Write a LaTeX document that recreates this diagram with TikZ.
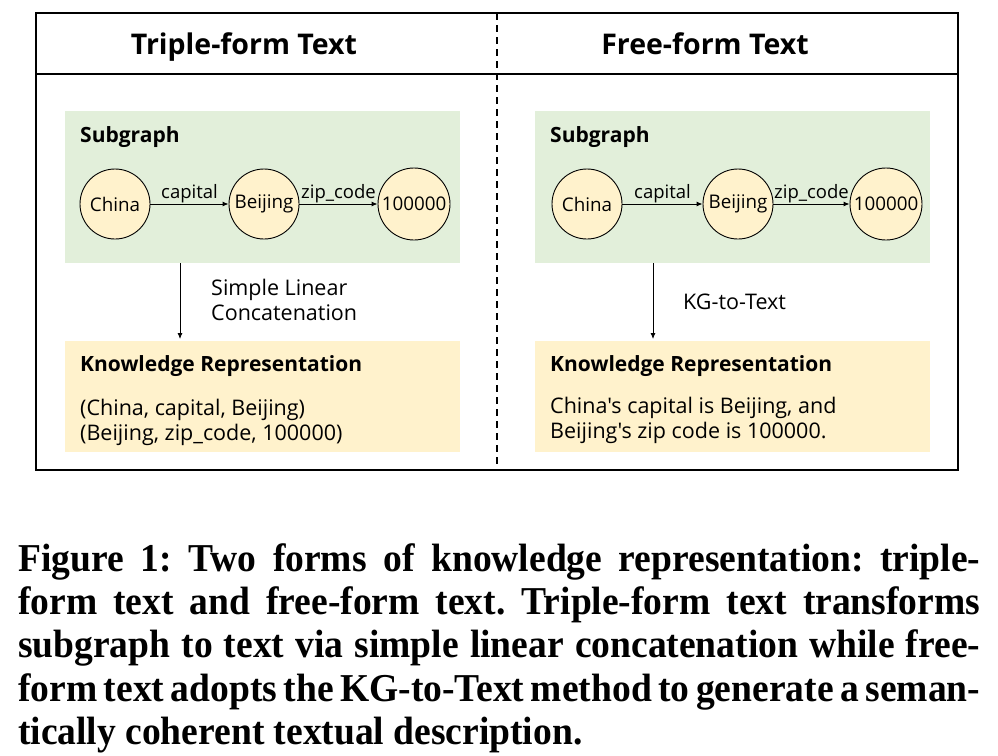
\documentclass[tikz,border=0pt]{standalone}
\usepackage{fontspec}
\setmainfont{Liberation Serif}
\newfontfamily\uifont{Open Sans}
\newfontface\capfont[FakeStretch=0.95]{Liberation Serif Bold}
\usetikzlibrary{arrows.meta}
\definecolor{subgfill}{HTML}{E2EFDA}
\definecolor{krfill}{HTML}{FFF2CC}
\definecolor{entfill}{HTML}{FFF2CC}
\frenchspacing
\begin{document}
\begin{tikzpicture}[x=1pt,y=-1pt,
  ent/.style={circle, draw, line width=0.9pt, fill=entfill, minimum size=70pt, inner sep=0pt, font=\uifont\fontsize{18.8}{20}\selectfont},
  rel/.style={-{Latex[length=6pt,width=5pt]}, line width=1pt},
  rellabel/.style={font=\uifont\fontsize{18.5}{20}\selectfont, inner sep=1pt},
  flow/.style={-{Latex[length=6pt,width=5pt]}, line width=0.8pt},
  panelbox/.style={anchor=north west, minimum width=395pt, minimum height=152pt, inner sep=0pt},
  krbox/.style={anchor=north west, fill=krfill, minimum width=395pt, minimum height=111pt, inner sep=0pt},
  heading/.style={anchor=base, font=\uifont\bfseries\fontsize{28.5}{32}\selectfont},
  subhead/.style={anchor=base west, font=\uifont\bfseries\fontsize{21}{24}\selectfont, inner sep=0pt},
  body/.style={anchor=base west, font=\uifont\fontsize{21.5}{25}\selectfont, inner sep=0pt},
  capline/.style={anchor=base west, inner sep=0pt, font=\capfont\fontsize{39.5}{43}\selectfont}
]
\useasboundingbox (0,0) rectangle (998,755);
% frame
\draw[line width=2pt] (36,13) rectangle (958,470);
\draw[line width=1.5pt] (36,74) -- (958,74);
\draw[line width=2pt, dash pattern=on 7pt off 5pt] (497,13) -- (497,470);
\node[heading] (h1) at (244,54) {Triple-form Text};
\node[heading] (h2) at (705,54) {Free-form Text};

% ---------- left panel
\node[panelbox, fill=subgfill] (sg1) at (65,111) {};
\node[subhead] (sgt1) at (80,142) {Subgraph};
\node[ent] (c1) at (115,204) {China};
\node[ent] (b1) at (264,204) {Beijing};
\node[ent, minimum size=72pt] (z1) at (414,204) {100000};
\draw[rel] (c1) -- node[rellabel, above=0pt] {capital} (b1);
\draw[rel] (b1) -- node[rellabel, above=0pt] {zip\_code} (z1);
\node[krbox] (kr1) at (65,341) {};
\node[subhead] (krt1) at (80,371) {Knowledge Representation};
\node[body] (krb1a) at (80,415) {(China, capital, Beijing)};
\node[body] (krb1b) at (80,440) {(Beijing, zip\_code, 100000)};
\coordinate (a1x) at (180,0);
\draw[flow] (sg1.south -| a1x) -- ([yshift=2pt]kr1.north -| a1x);
\node[body] (l1a) at (211,295) {Simple Linear};
\node[body] (l1b) at (211,320) {Concatenation};

% ---------- right panel
\node[panelbox, fill=subgfill] (sg2) at (535,111) {};
\node[subhead] (sgt2) at (550,142) {Subgraph};
\node[ent] (c2) at (587,204) {China};
\node[ent] (b2) at (738,204) {Beijing};
\node[ent, minimum size=72pt] (z2) at (886,204) {100000};
\draw[rel] (c2) -- node[rellabel, above=0pt] {capital} (b2);
\draw[rel] (b2) -- node[rellabel, above=0pt] {zip\_code} (z2);
\node[krbox] (kr2) at (535,341) {};
\node[subhead] (krt2) at (550,371) {Knowledge Representation};
\node[body] (krb2a) at (550,413) {China's capital is Beijing, and};
\node[body] (krb2b) at (550,438) {Beijing's zip code is 100000.};
\coordinate (a2x) at (653,0);
\draw[flow] (sg2.south -| a2x) -- ([yshift=2pt]kr2.north -| a2x);
\node[body] (l2) at (683,309) {KG-to-Text};

% ---------- caption
\node[capline] (cap1) at (18,571) {\makebox[962pt][s]{Figure 1: Two forms of knowledge representation: triple-}};
\node[capline] (cap2) at (18,614) {\makebox[962pt][s]{form text and free-form text. Triple-form text transforms}};
\node[capline] (cap3) at (18,657) {\makebox[962pt][s]{subgraph to text via simple linear concatenation while free-}};
\node[capline] (cap4) at (18,701) {\makebox[962pt][s]{form text adopts the KG-to-Text method to generate a seman-}};
\node[capline] (cap5) at (18,744) {tically coherent textual description.};
\end{tikzpicture}
\end{document}
